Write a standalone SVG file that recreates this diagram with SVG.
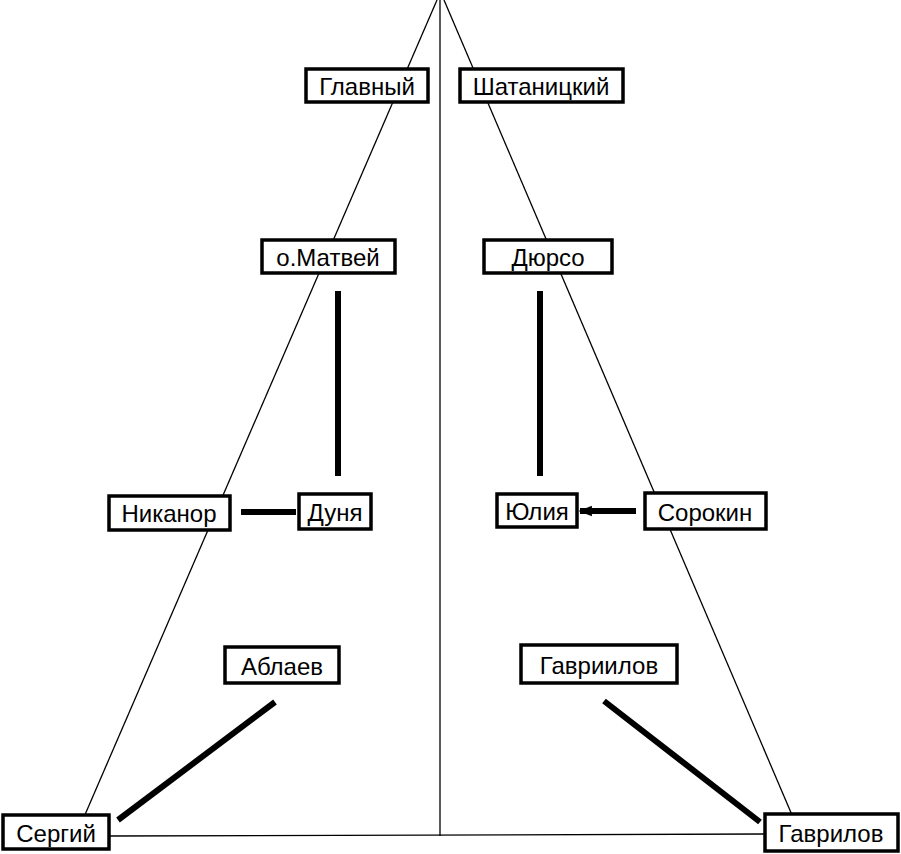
<svg xmlns="http://www.w3.org/2000/svg" width="901" height="854" viewBox="0 0 901 854">
<defs>
<style>
.box{fill:#fff;stroke:#000;stroke-width:3.5}
.lbl{font-family:"Liberation Sans",Arial,sans-serif;font-size:24px;fill:#000;text-anchor:middle;dominant-baseline:central}
.thin{stroke:#000;stroke-width:1.3;fill:none}
.thick{stroke:#000;stroke-width:6;fill:none}
</style>
<marker id="ah" viewBox="0 0 10 10" refX="9" refY="5" markerWidth="2.2" markerHeight="2.2" orient="auto"><path d="M0,1L10,5L0,9z" fill="#000"/></marker>
</defs>
<rect width="901" height="854" fill="#fff"/>
<g id="connectors">
<line class="thin" x1="437" y1="0" x2="84" y2="817"/>
<line class="thin" x1="444" y1="0" x2="792" y2="815"/>
<line class="thin" x1="440" y1="0" x2="440" y2="836"/>
<line class="thin" x1="108" y1="836" x2="765" y2="834"/>
<line class="thick" x1="338" y1="291" x2="338" y2="476"/>
<line class="thick" x1="540" y1="291" x2="540" y2="476"/>
<line class="thick" x1="241" y1="512" x2="296" y2="512" stroke-width="5"/>
<line class="thick" x1="636" y1="511" x2="580" y2="511" stroke-width="5" marker-end="url(#ah)"/>
<line class="thick" x1="275" y1="702" x2="118" y2="820" stroke-width="7"/>
<line class="thick" x1="604" y1="701" x2="760" y2="822" stroke-width="7"/>
</g>
<g id="glavny"><rect class="box" x="306" y="69" width="122" height="33"/><text class="lbl" x="367" y="86">Главный</text></g>
<g id="shatanitsky"><rect class="box" x="460" y="69" width="163" height="33"/><text class="lbl" x="541" y="86">Шатаницкий</text></g>
<g id="matvey"><rect class="box" x="262" y="240" width="133" height="33"/><text class="lbl" x="328" y="257">о.Матвей</text></g>
<g id="dyurso"><rect class="box" x="484" y="240" width="128" height="33"/><text class="lbl" x="548" y="257">Дюрсо</text></g>
<g id="nikanor"><rect class="box" x="109" y="496" width="121" height="34"/><text class="lbl" x="169" y="513">Никанор</text></g>
<g id="dunya"><rect class="box" x="299" y="494" width="72" height="35"/><text class="lbl" x="335" y="512">Дуня</text></g>
<g id="yulia"><rect class="box" x="497" y="494" width="80" height="33"/><text class="lbl" x="537" y="511">Юлия</text></g>
<g id="sorokin"><rect class="box" x="645" y="493" width="121" height="36"/><text class="lbl" x="705" y="512">Сорокин</text></g>
<g id="ablaev"><rect class="box" x="225" y="647" width="114" height="36"/><text class="lbl" x="282" y="666">Аблаев</text></g>
<g id="gavriilov"><rect class="box" x="521" y="645" width="156" height="38"/><text class="lbl" x="599" y="665">Гавриилов</text></g>
<g id="sergiy"><rect class="box" x="3" y="815" width="106" height="34"/><text class="lbl" x="56" y="833">Сергий</text></g>
<g id="gavrilov"><rect class="box" x="765" y="814" width="133" height="37"/><text class="lbl" x="831" y="833">Гаврилов</text></g>
</svg>
